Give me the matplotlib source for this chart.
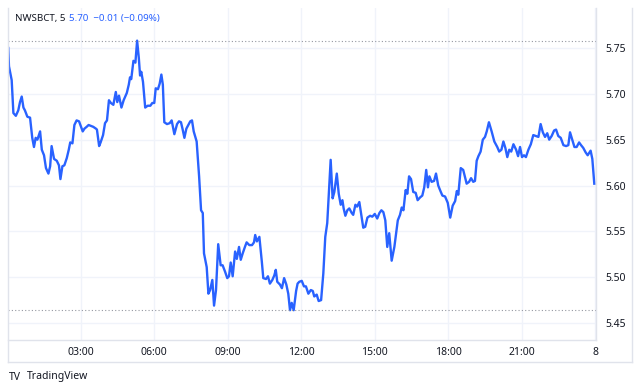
import numpy as np
import matplotlib
matplotlib.use("Agg")
import matplotlib.pyplot as plt
from matplotlib.lines import Line2D

plt.rcParams["font.family"] = ["Noto Sans", "DejaVu Sans"]

# hours since 00:00 of day 7, and price (NWSBCT, 5 min)
hours = [
    0.05, 0.08, 0.19, 0.26, 0.36, 0.46, 0.53, 0.60, 0.67, 0.73, 0.83, 0.94,
    1.03, 1.10, 1.17, 1.24, 1.35, 1.42, 1.51, 1.59, 1.69, 1.76, 1.82, 1.92,
    2.03, 2.12, 2.18, 2.26, 2.34, 2.44, 2.52, 2.58, 2.67, 2.75, 2.84, 2.94,
    3.01, 3.09, 3.16, 3.25, 3.33, 3.43, 3.52, 3.63, 3.67, 3.76, 3.82, 3.92,
    4.00, 4.08, 4.16, 4.24, 4.34, 4.44, 4.50, 4.57, 4.67, 4.76, 4.89, 4.97,
    5.02, 5.07, 5.16, 5.24, 5.31, 5.38, 5.43, 5.48, 5.55, 5.64, 5.74, 5.85,
    5.93, 6.01, 6.07, 6.16, 6.23, 6.30, 6.36, 6.42, 6.53, 6.64, 6.72, 6.83,
    6.94, 7.02, 7.10, 7.17, 7.24, 7.32, 7.40, 7.48, 7.55, 7.62, 7.74, 7.84,
    7.92, 7.99, 8.04, 8.15, 8.22, 8.29, 8.38, 8.45, 8.53, 8.62, 8.72, 8.80,
    8.90, 8.99, 9.06, 9.13, 9.21, 9.31, 9.38, 9.47, 9.54, 9.62, 9.71, 9.78,
    9.89, 10.00, 10.08, 10.13, 10.20, 10.30, 10.40, 10.46, 10.57, 10.65, 10.73, 10.83,
    10.91, 10.97, 11.03, 11.14, 11.22, 11.31, 11.40, 11.48, 11.55, 11.62, 11.70, 11.80,
    11.86, 11.93, 12.03, 12.12, 12.20, 12.30, 12.40, 12.48, 12.54, 12.64, 12.72, 12.82,
    12.91, 12.99, 13.07, 13.21, 13.29, 13.36, 13.46, 13.54, 13.62, 13.69, 13.74, 13.81,
    13.89, 13.97, 14.07, 14.13, 14.22, 14.29, 14.38, 14.46, 14.54, 14.62, 14.71, 14.82,
    14.91, 15.01, 15.11, 15.20, 15.28, 15.36, 15.44, 15.52, 15.60, 15.70, 15.81, 15.95,
    16.04, 16.11, 16.18, 16.27, 16.34, 16.41, 16.49, 16.58, 16.68, 16.76, 16.86, 16.95,
    17.03, 17.11, 17.18, 17.24, 17.33, 17.43, 17.51, 17.60, 17.69, 17.77, 17.88, 17.99,
    18.09, 18.19, 18.29, 18.36, 18.42, 18.52, 18.62, 18.76, 18.86, 18.94, 19.03, 19.10,
    19.17, 19.24, 19.33, 19.42, 19.51, 19.58, 19.67, 19.78, 19.89, 20.01, 20.09, 20.18,
    20.26, 20.34, 20.42, 20.50, 20.58, 20.67, 20.78, 20.86, 20.94, 21.02, 21.10, 21.18,
    21.28, 21.38, 21.48, 21.58, 21.69, 21.78, 21.87, 21.96, 22.05, 22.13, 22.23, 22.33,
    22.41, 22.50, 22.60, 22.71, 22.82, 22.91, 22.98, 23.06, 23.16, 23.25, 23.35, 23.43,
    23.52, 23.62, 23.70, 23.77, 23.82, 23.89, 23.97,
]
prices = [
    5.750, 5.730, 5.715, 5.679, 5.676, 5.682, 5.691, 5.697, 5.685, 5.682, 5.675, 5.674,
    5.652, 5.642, 5.652, 5.650, 5.659, 5.639, 5.633, 5.619, 5.613, 5.621, 5.643, 5.629,
    5.627, 5.622, 5.607, 5.621, 5.622, 5.630, 5.639, 5.647, 5.646, 5.666, 5.671, 5.670,
    5.665, 5.659, 5.662, 5.664, 5.666, 5.665, 5.664, 5.662, 5.661, 5.643, 5.647, 5.655,
    5.668, 5.671, 5.693, 5.690, 5.688, 5.702, 5.691, 5.698, 5.685, 5.693, 5.701, 5.710,
    5.718, 5.716, 5.736, 5.734, 5.758, 5.739, 5.720, 5.724, 5.713, 5.685, 5.687, 5.687,
    5.690, 5.690, 5.706, 5.705, 5.711, 5.721, 5.710, 5.669, 5.667, 5.668, 5.671, 5.656,
    5.667, 5.670, 5.669, 5.661, 5.652, 5.662, 5.666, 5.670, 5.671, 5.659, 5.648, 5.610,
    5.573, 5.570, 5.526, 5.511, 5.482, 5.486, 5.497, 5.469, 5.486, 5.536, 5.513, 5.513,
    5.506, 5.499, 5.501, 5.516, 5.501, 5.528, 5.520, 5.533, 5.519, 5.526, 5.533, 5.538,
    5.535, 5.535, 5.538, 5.546, 5.539, 5.544, 5.517, 5.499, 5.498, 5.501, 5.493, 5.497,
    5.502, 5.508, 5.495, 5.492, 5.488, 5.499, 5.492, 5.482, 5.464, 5.472, 5.464, 5.485,
    5.493, 5.495, 5.496, 5.490, 5.490, 5.482, 5.486, 5.485, 5.479, 5.481, 5.474, 5.475,
    5.504, 5.544, 5.559, 5.628, 5.586, 5.593, 5.613, 5.591, 5.579, 5.584, 5.575, 5.567,
    5.573, 5.575, 5.570, 5.568, 5.579, 5.577, 5.582, 5.568, 5.554, 5.555, 5.565, 5.567,
    5.566, 5.569, 5.564, 5.570, 5.573, 5.571, 5.562, 5.533, 5.548, 5.518, 5.533, 5.562,
    5.568, 5.576, 5.573, 5.595, 5.591, 5.610, 5.607, 5.593, 5.592, 5.584, 5.587, 5.589,
    5.598, 5.617, 5.598, 5.610, 5.604, 5.605, 5.613, 5.600, 5.594, 5.589, 5.588, 5.581,
    5.565, 5.578, 5.583, 5.594, 5.590, 5.619, 5.617, 5.602, 5.604, 5.608, 5.604, 5.605,
    5.627, 5.632, 5.637, 5.650, 5.653, 5.659, 5.669, 5.659, 5.648, 5.642, 5.637, 5.639,
    5.648, 5.641, 5.631, 5.639, 5.637, 5.645, 5.639, 5.632, 5.642, 5.631, 5.633, 5.631,
    5.639, 5.645, 5.655, 5.654, 5.653, 5.667, 5.658, 5.653, 5.657, 5.650, 5.654, 5.660,
    5.661, 5.654, 5.652, 5.644, 5.643, 5.644, 5.658, 5.651, 5.642, 5.642, 5.647, 5.644,
    5.641, 5.636, 5.633, 5.636, 5.638, 5.629, 5.602,
]

x_ticks = [3, 6, 9, 12, 15, 18, 21, 24]
x_labels = ["03:00", "06:00", "09:00", "12:00", "15:00", "18:00", "21:00", "8"]
y_ticks = [5.45, 5.50, 5.55, 5.60, 5.65, 5.70, 5.75]

BLUE = "#2962FF"
TEXT = "#131722"
GRID = "#f0f3fa"
BORDER = "#e0e3eb"

W, H = 640, 391
fig = plt.figure(figsize=(W / 100, H / 100), dpi=100)
ax = fig.add_axes([8 / W, (H - 340) / H, 588 / W, 332 / H])

ax.plot(hours, prices, color=BLUE, lw=1.7, solid_joinstyle="round")
ax.axhline(max(prices), color="#9598a1", lw=0.8, ls=(0, (1, 2)))
ax.axhline(min(prices), color="#9598a1", lw=0.8, ls=(0, (1, 2)))

ax.set_xlim(0.04, 24.04)
ax.set_ylim(5.4315, 5.7936)
ax.set_xticks(x_ticks)
ax.set_xticklabels(x_labels)
ax.set_yticks(y_ticks)
ax.set_yticklabels([f"{v:.2f}" for v in y_ticks])
ax.yaxis.tick_right()
ax.tick_params(axis="both", length=0, labelsize=7.5, colors=TEXT)
ax.tick_params(axis="x", pad=5)
ax.tick_params(axis="y", pad=7)
ax.grid(True, color=GRID, lw=1)
ax.set_axisbelow(True)
for side in ["top", "left"]:
    ax.spines[side].set_visible(False)
for side in ["right", "bottom"]:
    ax.spines[side].set_color(BORDER)
    ax.spines[side].set_linewidth(1)

# frame lines around the time and price scales
fig.add_artist(Line2D([8 / W, 632 / W], [(H - 362) / H] * 2, color=BORDER, lw=1))
fig.add_artist(Line2D([632 / W] * 2, [(H - 8) / H, (H - 362) / H], color=BORDER, lw=1))
fig.add_artist(Line2D([8 / W] * 2, [(H - 8) / H, (H - 362) / H], color=BORDER, lw=1))

fig.text(15 / W, (H - 19) / H, "NWSBCT, 5", fontsize=7, color=TEXT, va="center")
fig.text(69 / W, (H - 19) / H, "5.70  \u22120.01 (\u22120.09%)", fontsize=7, color=BLUE, va="center")

fig.text(9 / W, (H - 377) / H, "TV", fontsize=7.5, fontweight="bold", color=TEXT, va="center")
fig.text(27 / W, (H - 377) / H, "TradingView", fontsize=7.5, color=TEXT, va="center")

fig.savefig("out.png", dpi=100, facecolor="white")
